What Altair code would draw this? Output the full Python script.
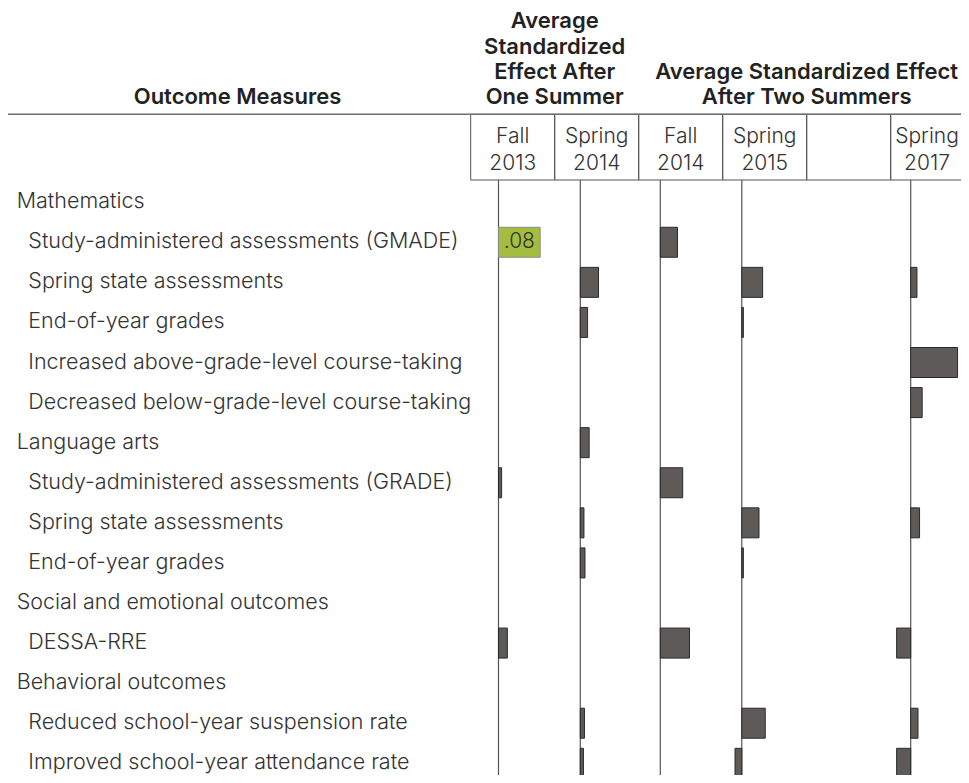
import altair as alt
import pandas as pd

# ---------------- data ----------------
labels = [
    "Mathematics",
    "Study-administered assessments (GMADE)",
    "Spring state assessments",
    "End-of-year grades",
    "Increased above-grade-level course-taking",
    "Decreased below-grade-level course-taking",
    "Language arts",
    "Study-administered assessments (GRADE)",
    "Spring state assessments",
    "End-of-year grades",
    "Social and emotional outcomes",
    "DESSA-RRE",
    "Behavioral outcomes",
    "Reduced school-year suspension rate",
    "Improved school-year attendance rate",
]
is_category = [1, 0, 0, 0, 0, 0, 1, 0, 0, 0, 1, 0, 1, 0, 0]

columns = ["Fall 2013", "Spring 2014", "Fall 2014", "Spring 2015", "", "Spring 2017"]

N = None
fall_2013 = [N, 0.080, N, N, N, N, N, 0.006, N, N, N, 0.017, N, N, N]
spring_2014 = [N, N, 0.035, 0.014, N, N, 0.017, N, 0.007, 0.009, N, N, N, 0.008, 0.006]
fall_2014 = [N, 0.033, N, N, N, N, N, 0.043, N, N, N, 0.056, N, N, N]
spring_2015 = [N, N, 0.040, 0.003, N, N, N, N, 0.033, 0.003, N, N, N, 0.045, -0.013]
spring_2017 = [N, N, 0.012, N, 0.090, 0.022, N, N, 0.017, N, N, -0.027, N, 0.014, -0.027]
series = {
    "Fall 2013": fall_2013,
    "Spring 2014": spring_2014,
    "Fall 2014": fall_2014,
    "Spring 2015": spring_2015,
    "Spring 2017": spring_2017,
}
significant = {("Fall 2013", 1)}

group_one = "Average\nStandardized\nEffect After\nOne Summer"
group_two = "Average Standardized Effect\nAfter Two Summers"
measure_title = "Outcome Measures"

# ---------------- layout ----------------
W, H = 953, 595
PAD_TOP = 172
K = 521.0            # pixels per unit of effect size
X0, CW = 462.7, 84.0  # header grid
bases = {"Fall 2013": 490.5, "Spring 2014": 572.3, "Fall 2014": 652.3,
         "Spring 2015": 733.8, "Spring 2017": 902.7}
LIGHT = "Inter"
BOLD = "Inter"
FS = 21.5
FS_CELL = 21
FS_TITLE = 22
LH = 26.8
LH_TITLE = 25.3
TITLE_BASE = -75.7
DARK, GREEN = "#5e5a59", "#a3bd3f"

rows = []
for c, vals in series.items():
    for i, v in enumerate(vals):
        if v is not None:
            rows.append({"row": i, "column": c, "value": v,
                         "sig": "yes" if (c, i) in significant else "no"})
df = pd.DataFrame(rows)

yenc = alt.Y("row:O", axis=None,
             scale=alt.Scale(type="point", domain=list(range(len(labels))),
                             range=[22.2, 583.3], padding=0))
fill_enc = alt.Fill("sig:N", legend=None,
                    scale=alt.Scale(domain=["yes", "no"], range=[GREEN, DARK]))
stroke_enc = alt.Stroke("sig:N", legend=None,
                        scale=alt.Scale(domain=["yes", "no"], range=["#8c8c8c", "#2a2a2a"]))


def column_layer(c):
    b = bases[c]
    xs = alt.Scale(domain=[-b / K, (W - b) / K], zero=False, nice=False)
    d = df[df["column"] == c]
    rule = alt.Chart(pd.DataFrame({"column": [c]})).mark_rule(
        color="#555555", strokeWidth=1.2
    ).encode(x=alt.X("zero:Q", scale=xs, axis=None), y=alt.value(0), y2=alt.value(H)
    ).transform_calculate(zero="0")
    bars = alt.Chart(d).mark_bar(size=30, strokeWidth=1).encode(
        x=alt.X("value:Q", scale=xs, axis=None), x2=alt.datum(0), y=yenc,
        fill=fill_enc, stroke=stroke_enc)
    txt = alt.Chart(d).transform_filter("datum.sig == 'yes'").transform_calculate(
        mid="datum.value / 2", lab="substring(format(datum.value, '.2f'), 1)"
    ).mark_text(font=LIGHT, fontWeight=300, fontSize=FS_CELL, color="#333333",
                align="center", baseline="middle").encode(
        x=alt.X("mid:Q", scale=xs, axis=None), y=yenc, text="lab:N")
    return alt.layer(rule, bars, txt)


lab_df = pd.DataFrame({"row": list(range(len(labels))), "label": labels, "cat": is_category})
cats = alt.Chart(lab_df).transform_filter("datum.cat == 1").mark_text(
    align="left", baseline="middle", font=LIGHT, fontWeight=300, fontSize=FS, color="#333333"
).encode(x=alt.value(8.7), y=yenc, text="label:N")
items = alt.Chart(lab_df).transform_filter("datum.cat == 0").mark_text(
    align="left", baseline="middle", font=LIGHT, fontWeight=300, fontSize=FS, color="#333333"
).encode(x=alt.value(20.3), y=yenc, text="label:N")

hdr = pd.DataFrame({"col": columns, "i": list(range(len(columns)))})
hdr["left"] = X0 + hdr["i"] * CW
hdr["right"] = hdr["left"] + CW
hdr["mid"] = (hdr["left"] + CW / 2).clip(upper=W - 34)
hdr["txt"] = hdr["col"].str.replace(" ", "\n")
xh = alt.Scale(domain=[0, W], zero=False, nice=False)

cells = alt.Chart(hdr).mark_rect(fill="white", fillOpacity=0, stroke="#555555", strokeWidth=1).encode(
    x=alt.X("left:Q", scale=xh, axis=None), x2="right:Q",
    y=alt.value(-65.7), y2=alt.value(0))
cell_txt = alt.Chart(hdr).mark_text(
    font=LIGHT, fontWeight=300, fontSize=FS_CELL, color="#333333", align="center",
    baseline="alphabetic", lineBreak="\n", lineHeight=LH
).encode(x=alt.X("mid:Q", scale=xh, axis=None), y=alt.value(-36.7), text="txt:N")
top_line = alt.Chart(pd.DataFrame({"a": [0]})).mark_rule(color="#6e6e6e", strokeWidth=1.6).encode(
    x=alt.value(0), x2=alt.value(W), y=alt.value(-65.7))

title_style = dict(font=BOLD, fontWeight=600, fontSize=FS_TITLE, color="#222222",
                   align="center", baseline="alphabetic", lineBreak="\n", lineHeight=LH_TITLE)
t0 = alt.Chart(pd.DataFrame({"t": [measure_title]})).mark_text(**title_style).encode(
    x=alt.value(229.5), y=alt.value(TITLE_BASE), text="t:N")
t1 = alt.Chart(pd.DataFrame({"t": [group_one]})).mark_text(**title_style).encode(
    x=alt.value(X0 + CW), y=alt.value(TITLE_BASE - 3 * LH_TITLE), text="t:N")
t2 = alt.Chart(pd.DataFrame({"t": [group_two]})).mark_text(**title_style).encode(
    x=alt.value(X0 + 4 * CW), y=alt.value(TITLE_BASE - LH_TITLE), text="t:N")

layers = [cells, top_line, cell_txt, t0, t1, t2, cats, items] + [column_layer(c) for c in bases]

chart = alt.layer(*layers).resolve_scale(x="independent").properties(
    width=W, height=H,
    padding={"top": PAD_TOP, "left": 0, "right": 0, "bottom": 0},
    autosize=alt.AutoSizeParams(type="none"),
    background="white",
).configure_view(stroke=None)

chart.save("out.html", embed_options={"renderer": "svg", "actions": False})
